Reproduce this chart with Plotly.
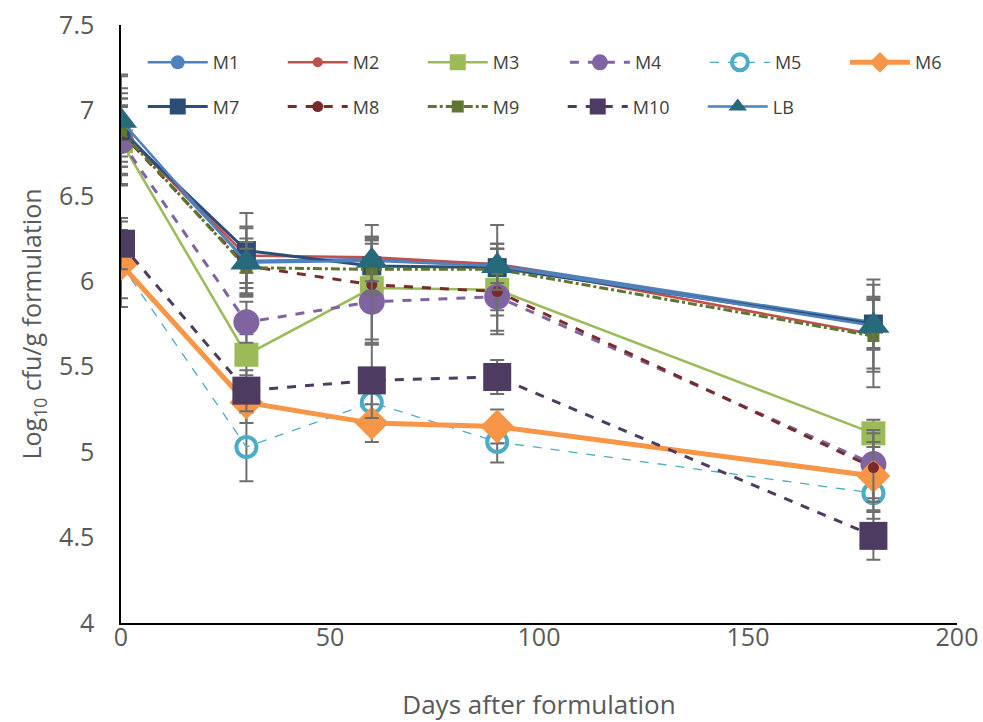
import plotly.graph_objects as go

days = [0, 30, 60, 90, 180]

M1 = [6.90, 6.12, 6.13, 6.10, 5.76]
M2 = [6.88, 6.15, 6.14, 6.10, 5.69]
M3 = [6.82, 5.57, 5.96, 5.95, 5.11]
M4 = [6.82, 5.76, 5.88, 5.91, 4.93]
M5 = [6.10, 5.03, 5.29, 5.06, 4.76]
M6 = [6.10, 5.29, 5.17, 5.15, 4.86]
M7 = [6.88, 6.18, 6.09, 6.08, 5.75]
M8 = [6.87, 6.09, 5.98, 5.94, 4.91]
M9 = [6.88, 6.08, 6.07, 6.07, 5.68]
M10 = [6.22, 5.36, 5.42, 5.44, 4.51]
LB = [6.94, 6.11, 6.12, 6.09, 5.74]

E1 = [0.20, 0.20, 0.12, 0.12, 0.15]
E2 = [0.15, 0.10, 0.12, 0.12, 0.20]
E3 = [0.20, 0.12, 0.30, 0.15, 0.08]
E4 = [0.25, 0.12, 0.25, 0.20, 0.20]
E5 = [0.20, 0.20, 0.15, 0.12, 0.15]
E6 = [0.25, 0.12, 0.11, 0.10, 0.20]
E7 = [0.32, 0.22, 0.15, 0.25, 0.15]
E8 = [0.20, 0.10, 0.35, 0.25, 0.20]
E9 = [0.25, 0.15, 0.15, 0.12, 0.30]
E10 = [0.15, 0.12, 0.22, 0.10, 0.14]
ELB = [0.27, 0.20, 0.12, 0.10, 0.27]

series = [
    ("M1", M1, E1, dict(color="#4F81BD", width=2.5), dict(symbol="circle", size=14, color="#4F81BD"), "legend"),
    ("M2", M2, E2, dict(color="#C0504D", width=2.5), dict(symbol="circle", size=10, color="#C0504D"), "legend"),
    ("M3", M3, E3, dict(color="#9BBB59", width=2.5), dict(symbol="square", size=24, color="#9BBB59"), "legend"),
    ("M4", M4, E4, dict(color="#8064A2", width=3, dash="dash"), dict(symbol="circle", size=26, color="#8064A2"), "legend3"),
    ("M5", M5, E5, dict(color="#4BACC6", width=1.3, dash="dash"), dict(symbol="circle-open", size=20, color="#4BACC6", line=dict(width=4, color="#4BACC6")), "legend3"),
    ("M6", M6, E6, dict(color="#F79646", width=5), dict(symbol="diamond", size=26, color="#F79646"), "legend4"),
    ("M7", M7, E7, dict(color="#2C4D75", width=3), dict(symbol="square", size=19, color="#2C4D75"), "legend2"),
    ("M8", M8, E8, dict(color="#772C2A", width=3, dash="dash"), dict(symbol="circle", size=11, color="#772C2A"), "legend2"),
    ("M9", M9, E9, dict(color="#5F7530", width=3, dash="dashdot"), dict(symbol="square", size=12, color="#5F7530"), "legend2"),
    ("M10", M10, E10, dict(color="#4D3B62", width=3, dash="dash"), dict(symbol="square", size=28, color="#4D3B62"), "legend2"),
    ("LB", LB, ELB, dict(color="#4F81BD", width=2.5), dict(symbol="triangle-up", size=28, color="#276A7C"), "legend2"),
]

fig = go.Figure()
for name, y, e, line, marker, lg in series:
    fig.add_trace(go.Scatter(
        x=days, y=y, name=name, mode="lines+markers",
        line=line, marker=marker, legend=lg,
        error_y=dict(type="data", array=e, visible=True, color="#6E6E6E", thickness=2, width=7),
    ))

font = "Open Sans"
legend_common = dict(
    orientation="h", xanchor="left", yanchor="top",
    entrywidthmode="pixels", itemwidth=60,
    font=dict(size=18, family=font, color="#404040"),
    bgcolor="rgba(0,0,0,0)",
)
fig.update_layout(
    width=983, height=722,
    margin=dict(l=121, r=26, t=25, b=99),
    plot_bgcolor="white", paper_bgcolor="white",
    font=dict(family=font, color="#595959"),
    showlegend=True,
    legend=dict(x=0.026, y=0.968, entrywidth=65, **legend_common),
    legend3=dict(x=0.531, y=0.968, entrywidth=65, **legend_common),
    legend4=dict(x=0.866, y=0.968, entrywidth=30, **legend_common),
    legend2=dict(x=0.026, y=0.894, entrywidth=65, **legend_common),
    xaxis=dict(
        range=[0, 200], tickvals=[0, 50, 100, 150, 200], showgrid=False,
        showline=True, linecolor="black", linewidth=1.5, zeroline=False,
        automargin=False, ticks="", ticklabelstandoff=-9,
        tickfont=dict(size=25, family=font, color="#595959"),
        title=dict(text="Days after formulation", font=dict(size=26, family=font, color="#595959"), standoff=50),
    ),
    yaxis=dict(
        range=[4, 7.5], tickvals=[4, 4.5, 5, 5.5, 6, 6.5, 7, 7.5],
        ticktext=["4", "4.5", "5", "5.5", "6", "6.5", "7", "7.5"],
        showgrid=False, showline=True, linecolor="black", linewidth=1.5, zeroline=False,
        automargin=False, ticks="outside", ticklen=20, tickcolor="rgba(0,0,0,0)",
        tickfont=dict(size=25, family=font, color="#595959"),
        title=dict(text="Log<sub>10</sub> cfu/g formulation", font=dict(size=25, family=font, color="#595959"), standoff=10),
    ),
)

fig.write_html("out.html", config={"displayModeBar": False},
               post_script="document.body.style.margin='0';")
